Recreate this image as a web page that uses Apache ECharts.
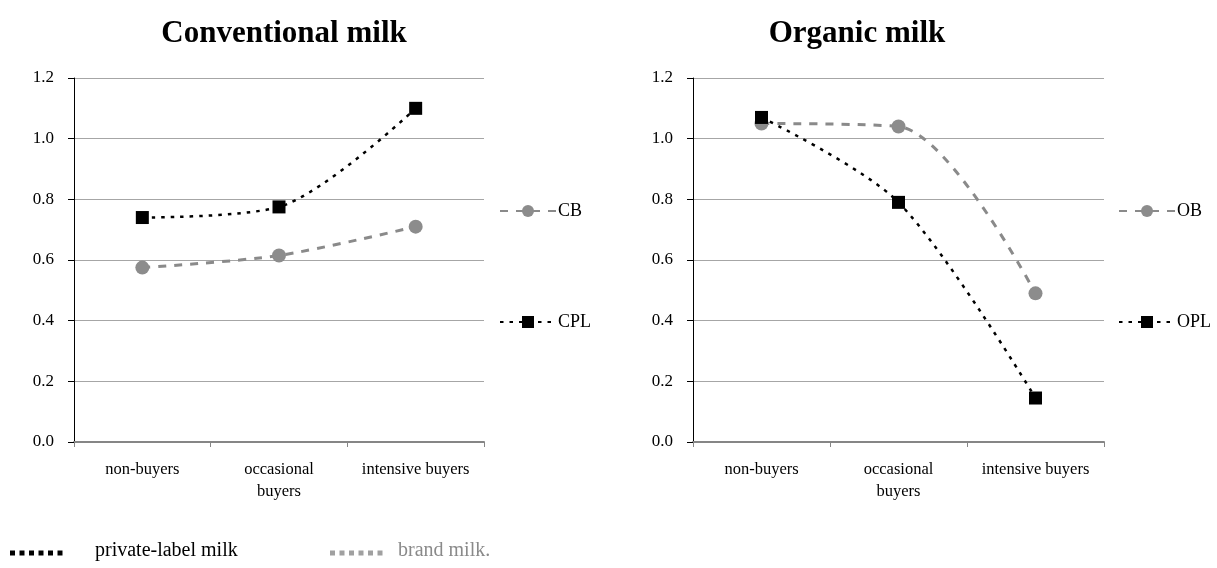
<!DOCTYPE html>
<html>
<head>
<meta charset="utf-8">
<title>Conventional vs organic milk</title>
<script src="https://cdn.jsdelivr.net/npm/echarts@6/dist/echarts.min.js"></script>
<style>
  html, body { margin: 0; padding: 0; background: #fff; }
  #chart { width: 1217px; height: 568px; }
</style>
</head>
<body>
<div id="chart"></div>
<script>
// ----- Data -----
const categories = ['non-buyers', 'occasional\nbuyers', 'intensive buyers'];
const yTicks = [0, 0.2, 0.4, 0.6, 0.8, 1.0, 1.2];

// conventional milk
const cb  = [0.575, 0.615, 0.71];   // brand
const cpl = [0.74, 0.775, 1.10];    // private label
// organic milk
const ob  = [1.05, 1.04, 0.49];
const opl = [1.07, 0.79, 0.145];

// ----- Styles -----
const FONT = '"Liberation Serif", "DejaVu Serif", serif';
const BLACK = '#000000';
const GREY_LINE = '#8a8a8a';
const GREY_DOT = '#8c8c8c';

const chart = echarts.init(document.getElementById('chart'));

function xAxisFor(gridIndex) {
  return {
    type: 'category',
    gridIndex,
    data: categories,
    boundaryGap: true,
    axisLine: { lineStyle: { color: '#868686', width: 2 } },
    axisTick: { show: true, length: 5, lineStyle: { color: '#868686', width: 1 } },
    axisLabel: {
      interval: 0, color: '#000', fontFamily: FONT, fontSize: 16.5,
      margin: 17, lineHeight: 22
    }
  };
}

function yAxisFor(gridIndex) {
  return {
    type: 'value',
    gridIndex,
    min: 0, max: yTicks[yTicks.length - 1], interval: 0.2,
    axisLine: { show: true, lineStyle: { color: '#000', width: 1 } },
    axisTick: { show: true, length: 6, lineStyle: { color: '#000' } },
    axisLabel: {
      color: '#000', fontFamily: FONT, fontSize: 17, margin: 20,
      formatter: v => v.toFixed(1)
    },
    splitLine: { show: true, lineStyle: { color: '#a6a6a6', width: 1 } }
  };
}

function brandSeries(name, data, idx) {
  return {
    name, type: 'line', data,
    xAxisIndex: idx, yAxisIndex: idx,
    smooth: 0.3,
    symbol: 'circle', symbolSize: 14,
    itemStyle: { color: GREY_DOT },
    lineStyle: { color: GREY_LINE, width: 3, type: [8, 8] },
    z: 2
  };
}

function plSeries(name, data, idx) {
  return {
    name, type: 'line', data,
    xAxisIndex: idx, yAxisIndex: idx,
    smooth: 0.3,
    symbol: 'rect', symbolSize: 13,
    itemStyle: { color: BLACK },
    lineStyle: { color: BLACK, width: 2.5, type: [3.5, 6] },
    z: 3
  };
}

function sideLegend(left, names) {
  return {
    orient: 'vertical',
    left, top: 197,
    itemWidth: 56, itemHeight: 15, itemGap: 93,
    data: names,
    textStyle: { color: '#000', fontFamily: FONT, fontSize: 18, padding: [0, 0, 0, -3] },
    selectedMode: false
  };
}

chart.setOption({
  backgroundColor: '#ffffff',
  animation: false,
  title: [
    { text: 'Conventional milk', left: 279, top: 13, textAlign: 'center',
      textStyle: { fontFamily: FONT, fontSize: 31, fontWeight: 'bold', color: '#000' } },
    { text: 'Organic milk', left: 852, top: 13, textAlign: 'center',
      textStyle: { fontFamily: FONT, fontSize: 31, fontWeight: 'bold', color: '#000' } }
  ],
  grid: [
    { left: 74, top: 78, width: 410, height: 364 },
    { left: 693, top: 78, width: 411, height: 364 }
  ],
  legend: [
    sideLegend(494, ['CB', 'CPL']),
    sideLegend(1113, ['OB', 'OPL'])
  ],
  xAxis: [xAxisFor(0), xAxisFor(1)],
  yAxis: [yAxisFor(0), yAxisFor(1)],
  series: [
    brandSeries('CB', cb, 0),
    plSeries('CPL', cpl, 0),
    brandSeries('OB', ob, 1),
    plSeries('OPL', opl, 1)
  ],
  // key for line types at the bottom
  graphic: [
    { type: 'line', shape: { x1: 10, y1: 553, x2: 66, y2: 553 },
      style: { stroke: BLACK, lineWidth: 5, lineDash: [5, 4.5] } },
    { type: 'text', left: 95, top: 541,
      style: { text: 'private-label milk', fill: '#000', font: '20px ' + FONT } },
    { type: 'line', shape: { x1: 330, y1: 553, x2: 386, y2: 553 },
      style: { stroke: '#a0a0a0', lineWidth: 5, lineDash: [5, 4.5] } },
    { type: 'text', left: 398, top: 541,
      style: { text: 'brand milk.', fill: '#8a8a8a', font: '20px ' + FONT } }
  ]
});

window.addEventListener('resize', () => chart.resize());
</script>
</body>
</html>
